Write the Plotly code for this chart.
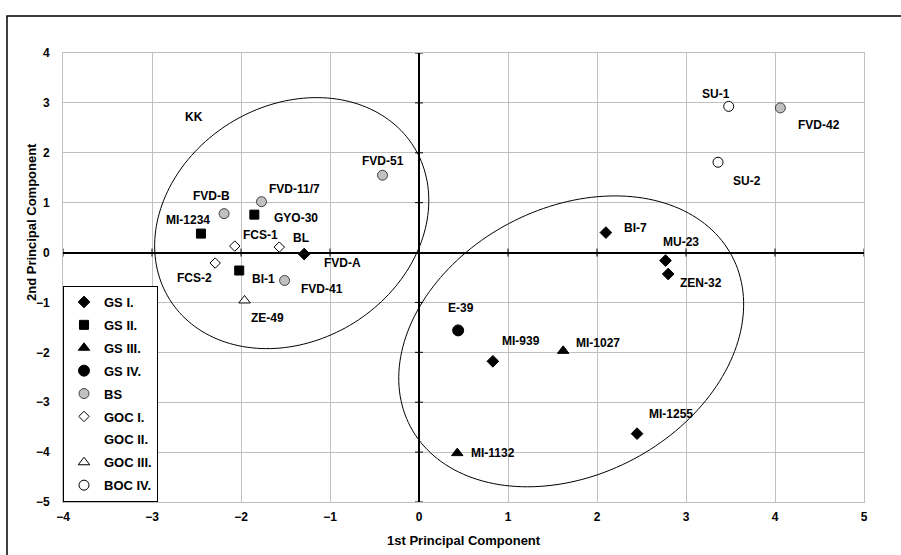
import numpy as np
import plotly.graph_objects as go

# ---------------- data ----------------
group_names = ["GS I.", "GS II.", "GS III.", "GS IV.", "BS", "GOC I.", "GOC II.", "GOC III.", "BOC IV."]

gs1_labels = ["FVD-A", "BI-7", "MU-23", "ZEN-32", "MI-939", "MI-1255"]
gs1_x = [-1.29, 2.10, 2.77, 2.80, 0.83, 2.45]
gs1_y = [-0.03, 0.40, -0.16, -0.43, -2.18, -3.63]

gs2_labels = ["MI-1234", "GYO-30", "BI-1"]
gs2_x = [-2.45, -1.85, -2.02]
gs2_y = [0.38, 0.76, -0.36]

gs3_labels = ["MI-1027", "MI-1132"]
gs3_x = [1.62, 0.43]
gs3_y = [-1.97, -4.02]

gs4_labels = ["E-39"]
gs4_x = [0.44]
gs4_y = [-1.56]

bs_labels = ["FVD-B", "FVD-11/7", "FVD-51", "FVD-41", "FVD-42"]
bs_x = [-2.19, -1.77, -0.41, -1.51, 4.06]
bs_y = [0.78, 1.02, 1.55, -0.56, 2.90]

goc1_labels = ["FCS-1", "BL", "FCS-2"]
goc1_x = [-2.07, -1.57, -2.29]
goc1_y = [0.13, 0.11, -0.21]

goc2_labels = ["KK"]
goc2_x = [-2.53]
goc2_y = [2.72]

goc3_labels = ["ZE-49"]
goc3_x = [-1.96]
goc3_y = [-0.96]

boc4_labels = ["SU-1", "SU-2"]
boc4_x = [3.48, 3.36]
boc4_y = [2.93, 1.81]

x_ticks = [-4, -3, -2, -1, 0, 1, 2, 3, 4, 5]
y_ticks = [-5, -4, -3, -2, -1, 0, 1, 2, 3, 4]

# ---------------- styles ----------------
W, H = 901, 555
ML, MR, MT, MB = 63, 37, 53, 53
PW, PH = W - ML - MR, H - MT - MB
KX = PW / 9.0   # px per x unit
KY = PH / 9.0   # px per y unit

FONT = "Liberation Sans, Arial, sans-serif"

styles = {
    "GS I.":   dict(symbol="diamond", size=9, color="black", line=dict(color="black", width=1)),
    "GS II.":  dict(symbol="square", size=9, color="black", line=dict(color="black", width=1)),
    "GS III.": dict(symbol="triangle-up", size=10, color="black", line=dict(color="black", width=1)),
    "GS IV.":  dict(symbol="circle", size=11, color="black", line=dict(color="black", width=1)),
    "BS":      dict(symbol="circle", size=10, color="#c0c0c0", line=dict(color="#404040", width=1)),
    "GOC I.":  dict(symbol="diamond", size=8, color="white", line=dict(color="black", width=1)),
    "GOC II.": dict(symbol="circle", size=8, color="rgba(0,0,0,0)", line=dict(color="rgba(0,0,0,0)", width=0)),
    "GOC III.": dict(symbol="triangle-up", size=10, color="white", line=dict(color="black", width=1)),
    "BOC IV.": dict(symbol="circle", size=10, color="white", line=dict(color="black", width=1)),
}

# label offsets in pixels (dx right, dy down) from marker centre
label_offsets = {
    "FVD-A": (38, 9), "BI-7": (30, -5), "MU-23": (15, -19), "ZEN-32": (33, 9),
    "MI-939": (28, -20), "MI-1255": (34, -20),
    "MI-1234": (-13, -14), "GYO-30": (42, 3), "BI-1": (24, 8),
    "MI-1027": (35, -8), "MI-1132": (36, 0),
    "E-39": (3, -22),
    "FVD-B": (-13, -18), "FVD-11/7": (33, -13), "FVD-51": (0, -14), "FVD-41": (37, 9), "FVD-42": (39, 17),
    "FCS-1": (26, -11), "BL": (22, -9), "FCS-2": (-21, 15),
    "KK": (0, 0),
    "ZE-49": (23, 18),
    "SU-1": (-13, -12), "SU-2": (29, 19),
}

# ellipses: centre in data units, semi-axes in px, rotation in degrees
ellipse_centers = [(-1.43, 0.59), (1.71, -1.78)]
ellipse_axes = [(144, 117.5), (182, 133.3)]
ellipse_angles = [32, 28]

groups = [
    ("GS I.", gs1_x, gs1_y, gs1_labels),
    ("GS II.", gs2_x, gs2_y, gs2_labels),
    ("GS III.", gs3_x, gs3_y, gs3_labels),
    ("GS IV.", gs4_x, gs4_y, gs4_labels),
    ("BS", bs_x, bs_y, bs_labels),
    ("GOC I.", goc1_x, goc1_y, goc1_labels),
    ("GOC II.", goc2_x, goc2_y, goc2_labels),
    ("GOC III.", goc3_x, goc3_y, goc3_labels),
    ("BOC IV.", boc4_x, boc4_y, boc4_labels),
]

fig = go.Figure()
annotations = []
for i, (name, xs, ys, labs) in enumerate(groups):
    st = styles[name]
    fig.add_trace(go.Scatter(
        x=xs, y=ys, mode="markers", name=name, legendgroup=f"g{i}",
        marker=dict(symbol=st["symbol"], size=st["size"], color=st["color"], line=st["line"]),
        hoverinfo="text", text=labs,
    ))
    for xv, yv, lab in zip(xs, ys, labs):
        dx, dy = label_offsets[lab]
        annotations.append(dict(
            x=xv, y=yv, xref="x", yref="y", text=lab, showarrow=False,
            xshift=dx, yshift=-dy,
            font=dict(family=FONT, size=12, color="black", weight="bold"),
        ))

shapes = []
# ellipses
t = np.linspace(0, 2 * np.pi, 181)
for (cx, cy), (a, b), ang in zip(ellipse_centers, ellipse_axes, ellipse_angles):
    th = np.deg2rad(ang)
    ex = cx + (a * np.cos(t) * np.cos(th) - b * np.sin(t) * np.sin(th)) / KX
    ey = cy + (a * np.cos(t) * np.sin(th) + b * np.sin(t) * np.cos(th)) / KY
    path = "M " + " L ".join(f"{px:.4f},{py:.4f}" for px, py in zip(ex, ey)) + " Z"
    shapes.append(dict(type="path", xref="x", yref="y", path=path,
                       line=dict(color="black", width=1), layer="above"))

# cross tick marks on the zero axes
for yv in y_ticks:
    shapes.append(dict(type="line", xref="x", yref="y", xsizemode="pixel", xanchor=0,
                       x0=-4, x1=4, y0=yv, y1=yv, line=dict(color="black", width=1)))
for xv in x_ticks:
    shapes.append(dict(type="line", xref="x", yref="y", ysizemode="pixel", yanchor=0,
                       y0=-4, y1=4, x0=xv, x1=xv, line=dict(color="black", width=1)))

# outer chart border
shapes.append(dict(type="rect", xref="paper", yref="paper",
                   x0=(7 - ML) / PW, x1=1.2, y0=-0.3, y1=(H - MB - 16) / PH,
                   line=dict(color="black", width=1.5), layer="below"))

# axis titles
annotations.append(dict(text="1st Principal Component", xref="paper", yref="paper",
                        x=0.5, y=-(540 - (H - MB)) / PH, showarrow=False,
                        xanchor="center", yanchor="middle",
                        font=dict(family=FONT, size=13, color="black", weight="bold")))
annotations.append(dict(text="2nd Principal Component", xref="paper", yref="paper",
                        x=(31 - ML) / PW, y=(H - MB - 222) / PH, showarrow=False,
                        textangle=-90, xanchor="center", yanchor="middle",
                        font=dict(family=FONT, size=13, color="black", weight="bold")))

axis_common = dict(
    showgrid=True, gridcolor="#c0c0c0", gridwidth=1,
    zeroline=True, zerolinecolor="black", zerolinewidth=1.5,
    showline=True, linecolor="#c0c0c0", linewidth=1, mirror=True,
    ticks="", dtick=1, tick0=0,
    tickfont=dict(family=FONT, size=12, color="black", weight="bold"),
    fixedrange=True,
)

fig.update_layout(
    width=W, height=H,
    margin=dict(l=ML, r=MR, t=MT, b=MB, pad=0),
    paper_bgcolor="white", plot_bgcolor="white",
    xaxis=dict(range=[-4, 5], ticklabelstandoff=4, **axis_common),
    yaxis=dict(range=[-5, 4], ticklabelstandoff=10, **axis_common),
    showlegend=True,
    legend=dict(
        x=0, y=0, xanchor="left", yanchor="bottom",
        bgcolor="white", bordercolor="black", borderwidth=1,
        font=dict(family=FONT, size=13, color="black", weight="bold"),
        tracegroupgap=3, itemwidth=30,
    ),
    shapes=shapes,
    annotations=annotations,
)

fig.write_html("out.html")
